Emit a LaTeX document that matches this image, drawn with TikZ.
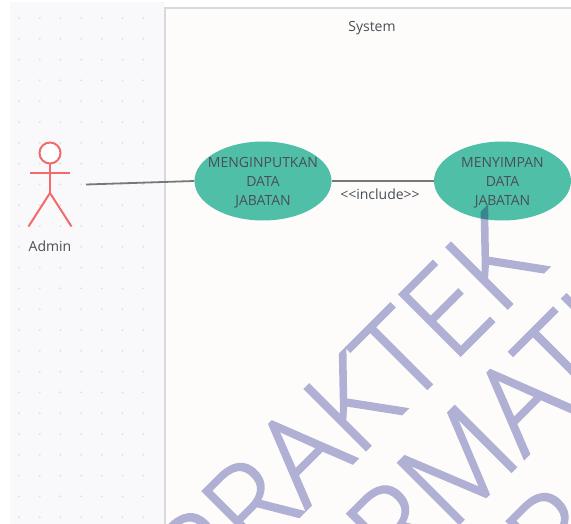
\documentclass[tikz,border=0pt]{standalone}
\usepackage{fontspec}
\setmainfont{Open Sans}
\newfontfamily\wmfont[FakeBold=1.8]{Open Sans Light}
\usetikzlibrary{shapes.geometric}
\definecolor{panelbg}{HTML}{F9F9FB}
\definecolor{dotc}{HTML}{E2E2E6}
\definecolor{sysbg}{HTML}{FDFCFB}
\definecolor{sysline}{HTML}{D9D9D9}
\definecolor{actorc}{HTML}{F26A6A}
\definecolor{teal}{HTML}{50BFA8}
\definecolor{linkc}{HTML}{777777}
\definecolor{txt}{HTML}{4A4F55}
\definecolor{wm}{HTML}{B1B3D8}
\tikzset{
  usetext/.style={align=center,text=txt,inner sep=0pt,font=\fontsize{14}{19}\selectfont},
  usecase/.style={ellipse,fill=teal,minimum width=137pt,minimum height=79pt,inner sep=0pt},
  limb/.style={draw=actorc,line width=2pt},
  link/.style={draw=linkc,line width=1.8pt},
  caption/.style={text=txt,font=\fontsize{14}{16}\selectfont,inner sep=0pt},
  watermark/.style={text=wm,rotate=45,anchor=base west,inner sep=0pt,font=\wmfont\fontsize{121}{121}\selectfont},
}
\begin{document}
\begin{tikzpicture}[x=1pt,y=-1pt]
\useasboundingbox (0,0) rectangle (571,524);
\clip (0,0) rectangle (571,524);
\fill[white] (0,0) rectangle (571,524);
\fill[panelbg] (10,2) rectangle (165,524);
\foreach \i in {0,...,6}{\foreach \j in {0,...,24}{
  \fill[dotc] ({19+20.7*\i},{18+20.8*\j}) circle (1.1pt);
}}
\draw[sysline,fill=sysbg,line width=2pt] (165,8) rectangle (600,560);
\node[caption] (sys) at (372,28.5) {System};
% use cases
\node[usecase] (uc1) at (263,181) {};
\node[usetext] (uc1t) at (263,183) {MENGINPUTKAN\\DATA\\JABATAN};
\node[usecase] (uc2) at (502.5,181) {};
\node[usetext] (uc2t) at (502.5,183) {MENYIMPAN\\DATA\\JABATAN};
% actor
\node[circle,draw=actorc,line width=2pt,fill=white,minimum size=21pt,inner sep=0pt] (head) at (50,153) {};
\coordinate (hip) at (50,193);
\coordinate (armL) at (30,173.5);
\coordinate (armR) at (70,173.5);
\coordinate (footL) at (28.5,226.5);
\coordinate (footR) at (71.5,226.5);
\draw[limb] (head.south) -- (hip);
\draw[limb] (armL) -- (armR);
\draw[limb] (footL) -- (hip) -- (footR);
\node[caption] (admin) at (50,246) {Admin};
\coordinate (actorEnd) at (86,184.5);
% connectors
\draw[link] (actorEnd) -- (uc1.west);
\draw[link] (uc1.east) -- (uc2.west);
\node[caption] (inc) at (380,194) {<{}<include>{}>};
% watermark
\begin{scope}[blend mode=multiply]
\begin{scope}[transparency group]
\node[watermark] (w1) at (205,611) {PRAKTEK};
\node[watermark] (w2) at (208,775) {INFORMATIKA};
\node[watermark] (w3) at (559,591) {R};
\end{scope}
\end{scope}
\end{tikzpicture}
\end{document}
